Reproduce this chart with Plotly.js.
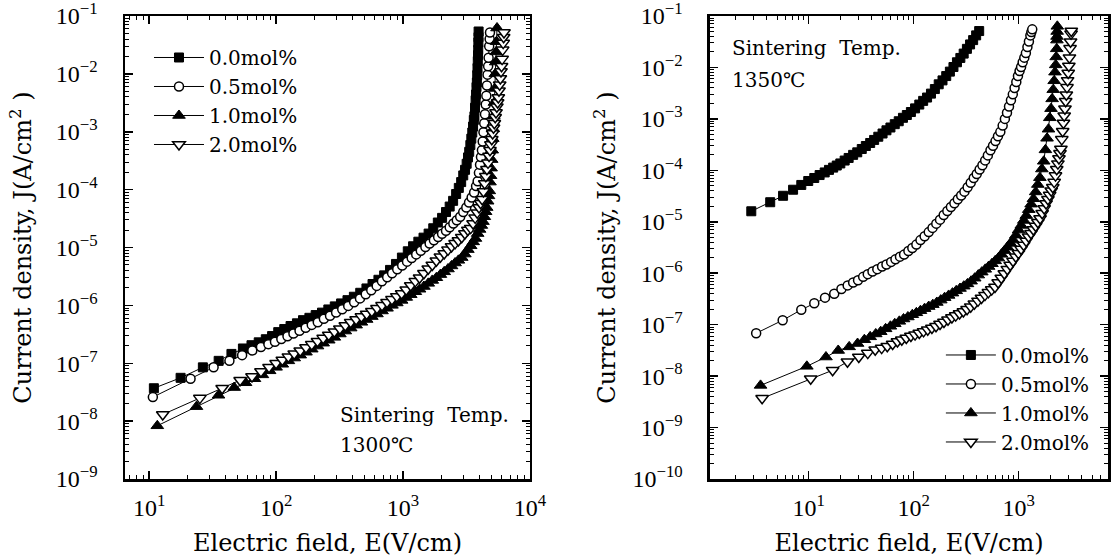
<!DOCTYPE html>
<html><head><meta charset="utf-8">
<script src="https://cdn.plot.ly/plotly-3.0.1.min.js"></script>
<style>html,body{margin:0;padding:0;background:#fff}#chart{width:1111px;height:560px}</style>
</head><body><div id="chart"></div>
<script>
const seriesNames = ['0.0mol%', '0.5mol%', '1.0mol%', '2.0mol%'];
const panelNotes = ['Sintering\u00a0 Temp.', '1300℃', 'Sintering\u00a0 Temp.', '1350℃'];

// ---- Sintering 1300 C : E (V/cm), J (A/cm2)
const e1300_00 = [10.9,17.7,26.5,35.3,44.5, 54.8,64,73,83,93, 104,116,130,146,163, 183,205,230,258,290, 325,365,410,460,515, 575,640,710,790,880, 980,1090,1200,1320,1450, 1590,1730,1880,2030,2180, 2330,2480,2620,2750,2870, 2980,3080,3170,3250,3320, 3390,3450,3510,3560,3610, 3650,3690,3730,3760,3790, 3815,3840,3860,3880,3895, 3910,3920,3930,3937];
const j1300_00 = [3.7e-8,5.6e-8,8.5e-8,1.1e-7,1.45e-7, 1.8e-7,2.05e-7,2.3e-7,2.6e-7,2.95e-7, 3.45e-7,3.9e-7,4.4e-7,4.9e-7,5.55e-7, 6.1e-7,6.8e-7,7.5e-7,8.5e-7,9.6e-7, 1.08e-6,1.23e-6,1.41e-6,1.65e-6,1.96e-6, 2.34e-6,2.77e-6,3.3e-6,4.1e-6,5.2e-6, 6.7e-6,8.6e-6,1.05e-5,1.26e-5,1.48e-5, 1.74e-5,2.15e-5,2.7e-5,3.25e-5,4.1e-5, 5.1e-5,6.4e-5,8.4e-5,1.07e-4,1.35e-4, 1.76e-4,2.2e-4,2.8e-4,3.6e-4,4.5e-4, 5.9e-4,7.6e-4,9.7e-4,1.23e-3,1.6e-3, 1.85e-3,2.6e-3,3.5e-3,4.4e-3,5.9e-3, 7.1e-3,9.5e-3,1.26e-2,1.66e-2,2.1e-2, 2.6e-2,3.5e-2,4.3e-2,5.4e-2];
const e1300_05 = [10.7,21.2,32.2,42.9,54, 65,76,87,98,110, 123,137,153,171,191, 213,238,266,297,332, 370,412,458,508,562, 620,682,750,820,900, 985,1075,1170,1270,1380, 1500,1620,1750,1890,2030, 2180,2330,2490,2650,2820, 2980,3150,3310,3470,3630, 3760,3870,3960,4040,4110, 4180,4240,4300,4360,4420, 4480,4530,4580,4630,4680, 4720,4770,4810,4840];
const j1300_05 = [2.6e-8,5.4e-8,8.5e-8,1.1e-7,1.38e-7, 1.66e-7,1.9e-7,2.14e-7,2.35e-7,2.63e-7, 2.93e-7,3.25e-7,3.65e-7,4.1e-7,4.6e-7, 5.1e-7,5.85e-7,6.6e-7,7.55e-7,8.6e-7, 9.8e-7,1.13e-6,1.32e-6,1.56e-6,1.82e-6, 2.17e-6,2.6e-6,3.05e-6,3.6e-6,4.2e-6, 4.9e-6,5.7e-6,6.6e-6,7.6e-6,8.8e-6, 1.02e-5,1.17e-5,1.33e-5,1.52e-5,1.73e-5, 1.95e-5,2.24e-5,2.6e-5,2.95e-5,3.4e-5, 4.1e-5,4.9e-5,6e-5,7.3e-5,8.9e-5, 1.15e-4,1.4e-4,1.95e-4,2.7e-4,3.65e-4, 4.8e-4,6.8e-4,9.8e-4,1.4e-3,2.0e-3, 2.95e-3,4.2e-3,6.3e-3,9.7e-3,1.35e-2, 1.9e-2,3e-2,4e-2,5.2e-2];
const e1300_10 = [11.6,23.6,35.2,46.8,57.5, 67.6,78,89,100,112, 125,139,155,172,191, 212,235,260,288,318, 351,387,427,470,517, 568,623,683,748,818, 893,975,1060,1150,1250, 1350,1460,1580,1700,1830, 1970,2110,2260,2410,2570, 2730,2900,3070,3240,3410, 3570,3720,3870,4010,4140, 4260,4370,4470,4560,4640, 4710,4780,4840,4890,4940, 4990,5040,5090,5140,5190, 5240,5290,5330,5370,5410, 5450,5500];
const j1300_10 = [8.3e-9,1.78e-8,2.8e-8,3.8e-8,4.6e-8, 5.4e-8,6.3e-8,7.4e-8,8.5e-8,9.6e-8, 1.1e-7,1.23e-7,1.38e-7,1.55e-7,1.75e-7, 1.98e-7,2.22e-7,2.5e-7,2.8e-7,3.2e-7, 3.6e-7,4.05e-7,4.55e-7,5.1e-7,5.7e-7, 6.4e-7,7.1e-7,8e-7,8.9e-7,1.0e-6, 1.1e-6,1.22e-6,1.37e-6,1.53e-6,1.72e-6, 1.9e-6,2.12e-6,2.4e-6,2.7e-6,3.0e-6, 3.4e-6,3.8e-6,4.25e-6,4.8e-6,5.4e-6, 6e-6,6.7e-6,7.7e-6,9.2e-6,1.07e-5, 1.25e-5,1.43e-5,1.74e-5,2.05e-5,2.4e-5, 2.8e-5,3.4e-5,4.15e-5,4.9e-5,6.3e-5, 7.8e-5,9.5e-5,1.35e-4,1.74e-4,2.35e-4, 3.3e-4,4.8e-4,7.6e-4,1.12e-3,1.86e-3, 3.2e-3,5.6e-3,1.0e-2,1.6e-2,2.4e-2, 3.6e-2,6.2e-2];
const e1300_20 = [12.8,25.1,37.6,52.1,64.6, 76,88,100,112,125, 139,155,172,191,212, 235,260,288,318,351, 387,427,470,517,568, 623,683,748,818,893, 975,1060,1150,1250,1350, 1460,1580,1700,1830,1970, 2110,2260,2410,2570,2730, 2900,3070,3240,3410,3560, 3700,3840,3970,4090,4200, 4300,4400,4490,4580,4670, 4760,4840,4920,5000,5080, 5160,5240,5320,5400,5480, 5560,5630,5700,5770,5840, 5910,5970,6030,6090,6150, 6200,6240];
const j1300_20 = [1.3e-8,2.5e-8,3.7e-8,5.1e-8,5.9e-8, 7.2e-8,8.5e-8,1.0e-7,1.14e-7,1.3e-7, 1.46e-7,1.64e-7,1.87e-7,2.12e-7,2.4e-7, 2.72e-7,3.08e-7,3.5e-7,3.95e-7,4.5e-7, 5.1e-7,5.7e-7,6.4e-7,7.1e-7,7.9e-7, 8.9e-7,1.0e-6,1.13e-6,1.27e-6,1.43e-6, 1.6e-6,1.86e-6,2.2e-6,2.6e-6,3.0e-6, 3.6e-6,4.3e-6,5.0e-6,5.9e-6,6.9e-6, 7.9e-6,9.1e-6,1.04e-5,1.18e-5,1.32e-5, 1.5e-5,1.74e-5,2.0e-5,2.16e-5,2.6e-5, 3.25e-5,4.0e-5,4.9e-5,5.8e-5,6.8e-5, 9.3e-5,1.28e-4,1.7e-4,2.25e-4,2.9e-4, 3.8e-4,4.8e-4,6e-4,7.4e-4,9.3e-4, 1.17e-3,1.4e-3,1.78e-3,2.15e-3,2.7e-3, 3.2e-3,3.9e-3,5.1e-3,6.5e-3,8.3e-3, 1.1e-2,1.35e-2,1.8e-2,2.6e-2,3.4e-2, 4.3e-2,5.2e-2];

// ---- Sintering 1350 C
const e1350_00 = [2.84,4.3,5.7,7.1,8.5, 9.9,11.3,12.7,14.2,15.6, 17.1,18.5,20,22,24, 26.5,29,32,35,38.5, 42,46,50.5,55,60, 66,72,79,86,94, 103,113,123,134,146, 159,173,188,204,221, 239,258,278,299,321, 344,368,393,420];
const j1350_00 = [1.6e-5,2.4e-5,3.2e-5,4.2e-5,5.2e-5, 6.2e-5,7.1e-5,8.1e-5,9.1e-5,1.02e-4, 1.13e-4,1.24e-4,1.36e-4,1.55e-4,1.74e-4, 2.0e-4,2.24e-4,2.6e-4,2.97e-4,3.4e-4, 3.9e-4,4.5e-4,5.2e-4,6.0e-4,6.8e-4, 7.9e-4,9.0e-4,1.05e-3,1.19e-3,1.36e-3, 1.6e-3,1.9e-3,2.24e-3,2.6e-3,3.1e-3, 3.8e-3,4.7e-3,5.6e-3,6.8e-3,8.3e-3, 1.02e-2,1.26e-2,1.53e-2,1.86e-2,2.3e-2, 2.8e-2,3.4e-2,4.2e-2,5.1e-2];
const e1350_05 = [3.16,5.65,8.5,11.3,14.3, 17.5,20.5,23.5,26.5,29.5, 33,36.5,40.5,45,50, 55,61,67,74,81, 89,97,106,116,127, 139,151,164,178,193, 209,226,244,263,283, 304,326,349,373,398, 424,451,479,508,538, 569,601,634,668,703, 738,773,808,843,878, 913,948,983,1018,1053, 1090,1130,1170,1210,1250, 1290,1320,1345];
const j1350_05 = [6.8e-8,1.22e-7,1.95e-7,2.6e-7,3.35e-7, 4.0e-7,4.95e-7,5.8e-7,6.6e-7,7.3e-7, 8.5e-7,9.6e-7,1.08e-6,1.2e-6,1.35e-6, 1.48e-6,1.66e-6,1.86e-6,2.1e-6,2.3e-6, 2.7e-6,3.1e-6,3.6e-6,4.4e-6,5.25e-6, 6.3e-6,7.6e-6,9.2e-6,1.1e-5,1.35e-5, 1.62e-5,1.94e-5,2.3e-5,2.75e-5,3.25e-5, 3.85e-5,4.7e-5,5.75e-5,7.1e-5,8.5e-5, 1.04e-4,1.26e-4,1.56e-4,1.95e-4,2.45e-4, 3.0e-4,3.7e-4,4.6e-4,5.6e-4,7.4e-4, 1.0e-3,1.32e-3,1.74e-3,2.3e-3,3.0e-3, 4.0e-3,5.2e-3,6.8e-3,8.5e-3,1.02e-2, 1.26e-2,1.55e-2,1.9e-2,2.5e-2,3.2e-2, 4.2e-2,4.9e-2,5.5e-2];
const e1350_10 = [3.48,9.6,14.6,19.1,24.3, 29.2,33.9,38.5,43.5,48.5, 54,60,66,73,80, 88,97,106,116,127, 139,152,166,181,197, 215,234,254,276,300, 325,352,381,412,445, 480,517,556,597,640, 685,732,781,832,885, 940,997,1056,1117,1180, 1245,1312,1380,1450,1520, 1590,1660,1730,1795,1860, 1920,1975,2030,2080,2130, 2175,2215,2250,2275,2300, 2310,2315,2322,2330];
const j1350_10 = [6.6e-9,1.55e-8,2.35e-8,3.15e-8,3.7e-8, 4.3e-8,5.1e-8,5.8e-8,6.6e-8,7.3e-8, 8.3e-8,9.3e-8,1.04e-7,1.16e-7,1.29e-7, 1.41e-7,1.56e-7,1.7e-7,1.87e-7,2.05e-7, 2.25e-7,2.45e-7,2.7e-7,3.0e-7,3.35e-7, 3.7e-7,4.1e-7,4.55e-7,5.05e-7,5.6e-7, 6.2e-7,7.0e-7,8.0e-7,9.2e-7,1.05e-6, 1.19e-6,1.35e-6,1.53e-6,1.74e-6,1.97e-6, 2.33e-6,2.75e-6,3.2e-6,3.8e-6,4.4e-6, 5.5e-6,6.9e-6,8.5e-6,1.06e-5,1.32e-5, 1.72e-5,2.2e-5,2.8e-5,3.8e-5,5.3e-5, 7.2e-5,1.06e-4,1.5e-4,2.5e-4,4.2e-4, 6.3e-4,1.05e-3,1.58e-3,2.45e-3,3.7e-3, 5.5e-3,8.1e-3,1.12e-2,1.6e-2,2.3e-2, 3.4e-2,4.0e-2,5.0e-2,6.3e-2];
const e1350_20 = [3.6,10.45,16.9,23.4,30, 36.5,43,49.5,56,63, 70,77,85,94,103, 113,124,136,149,163, 178,194,212,231,251, 273,297,322,349,378, 409,442,477,514,553, 594,637,682,729,778, 829,882,937,994,1053, 1114,1177,1242,1309,1378, 1449,1522,1597,1672,1747, 1822,1897,1970,2040,2110, 2175,2240,2300,2360,2415, 2470,2520,2570,2620,2665, 2710,2755,2800,2840,2880, 2920,2960,3000,3040,3080, 3115,3150,3165];
const j1350_20 = [3.7e-9,8.9e-9,1.3e-8,1.9e-8,2.35e-8, 2.8e-8,3.25e-8,3.5e-8,3.8e-8,4.2e-8, 4.7e-8,5.1e-8,5.5e-8,6.0e-8,6.4e-8, 6.9e-8,7.4e-8,8.0e-8,8.6e-8,9.3e-8, 1.03e-7,1.13e-7,1.25e-7,1.38e-7,1.5e-7, 1.65e-7,1.8e-7,2.0e-7,2.24e-7,2.55e-7, 2.9e-7,3.3e-7,3.75e-7,4.25e-7,4.8e-7, 5.4e-7,6.6e-7,8.1e-7,9.9e-7,1.2e-6, 1.45e-6,1.73e-6,2.1e-6,2.45e-6,2.95e-6, 3.55e-6,4.25e-6,5.1e-6,6.0e-6,7.1e-6, 8.3e-6,9.8e-6,1.16e-5,1.46e-5,1.82e-5, 2.27e-5,2.75e-5,3.3e-5,4.0e-5,4.7e-5, 5.9e-5,7.9e-5,1.05e-4,1.35e-4,1.7e-4, 2.15e-4,2.6e-4,4.0e-4,5.75e-4,8.3e-4, 1.15e-3,1.58e-3,2.2e-3,2.95e-3,4.1e-3, 5.6e-3,7.8e-3,1.07e-2,1.55e-2,2.35e-2, 3.15e-2,4.5e-2,5.1e-2];

// ---- tick labels
const xTickValsL = [10, 100, 1000, 10000];
const xTickTextL = ['10<sup>1</sup>', '10<sup>2</sup>', '10<sup>3</sup>', '10<sup>4</sup>'];
const yTickValsL = [1e-9, 1e-8, 1e-7, 1e-6, 1e-5, 1e-4, 1e-3, 1e-2, 1e-1];
const yTickTextL = ['10<sup>−9</sup>', '10<sup>−8</sup>', '10<sup>−7</sup>', '10<sup>−6</sup>', '10<sup>−5</sup>', '10<sup>−4</sup>', '10<sup>−3</sup>', '10<sup>−2</sup>', '10<sup>−1</sup>'];
const xTickValsR = [10, 100, 1000];
const xTickTextR = ['10<sup>1</sup>', '10<sup>2</sup>', '10<sup>3</sup>'];
const yTickValsR = [1e-10, 1e-9, 1e-8, 1e-7, 1e-6, 1e-5, 1e-4, 1e-3, 1e-2, 1e-1];
const yTickTextR = ['10<sup>−10</sup>', '10<sup>−9</sup>', '10<sup>−8</sup>', '10<sup>−7</sup>', '10<sup>−6</sup>', '10<sup>−5</sup>', '10<sup>−4</sup>', '10<sup>−3</sup>', '10<sup>−2</sup>', '10<sup>−1</sup>'];
const xTitle = 'Electric field, E(V/cm)';
const yTitle = 'Current density, J(A/cm<sup>2</sup> )';

const markerStyles = [
  {symbol: 'square', size: 9, color: '#000', line: {color: '#000', width: 1}},
  {symbol: 'circle', size: 9, color: '#fff', line: {color: '#000', width: 1.5}},
  {symbol: 'triangle-up', size: 11, color: '#000', line: {color: '#000', width: 1}},
  {symbol: 'triangle-down', size: 11, color: '#fff', line: {color: '#000', width: 1.5}}
];

const leftSets = [[e1300_00, j1300_00], [e1300_05, j1300_05], [e1300_10, j1300_10], [e1300_20, j1300_20]];
const rightSets = [[e1350_00, j1350_00], [e1350_05, j1350_05], [e1350_10, j1350_10], [e1350_20, j1350_20]];

const traces = [];
leftSets.forEach((s, i) => traces.push({
  x: s[0], y: s[1], type: 'scatter', mode: 'lines+markers', name: seriesNames[i],
  xaxis: 'x', yaxis: 'y', legend: 'legend', cliponaxis: true,
  line: {color: '#000', width: 1}, marker: markerStyles[i]
}));
rightSets.forEach((s, i) => traces.push({
  x: s[0], y: s[1], type: 'scatter', mode: 'lines+markers', name: seriesNames[i],
  xaxis: 'x2', yaxis: 'y2', legend: 'legend2', cliponaxis: true,
  line: {color: '#000', width: 1}, marker: markerStyles[i]
}));

const tickFont = {family: 'Liberation Serif, serif', size: 24, color: '#000'};
const titleFont = {family: 'DejaVu Serif, serif', size: 24, color: '#000'};
function axis(extra) {
  return Object.assign({
    type: 'log', showline: true, linewidth: 2.5, linecolor: '#000', mirror: 'ticks',
    ticks: 'inside', ticklen: 8, tickwidth: 1.5, tickcolor: '#000',
    showgrid: false, zeroline: false, tickmode: 'array', tickfont: tickFont,
    ticklabeloverflow: 'allow',
    minor: {ticks: 'inside', ticklen: 4, tickwidth: 1, tickcolor: '#000', dtick: 'D1', showgrid: false}
  }, extra);
}

const layout = {
  width: 1111, height: 560,
  margin: {l: 125, r: 3, t: 16, b: 81, pad: 0},
  paper_bgcolor: '#fff', plot_bgcolor: '#fff',
  showlegend: true,
  xaxis: axis({domain: [0, 0.412], range: [0.81, 4.0], tickvals: xTickValsL, ticktext: xTickTextL,
    ticklabelstandoff: 6, anchor: 'y', title: {text: xTitle, font: titleFont, standoff: 14}}),
  yaxis: axis({domain: [0, 1], range: [-9, -1], tickvals: yTickValsL, ticktext: yTickTextL,
    ticklabelstandoff: 20, anchor: 'x', title: {text: yTitle, font: titleFont, standoff: 18}}),
  xaxis2: axis({domain: [0.5951, 1], range: [0.06, 3.85], tickvals: xTickValsR, ticktext: xTickTextR,
    ticklabelstandoff: 6, anchor: 'y2', title: {text: xTitle, font: titleFont, standoff: 14}}),
  yaxis2: axis({domain: [0, 1], range: [-10, -1], tickvals: yTickValsR, ticktext: yTickTextR,
    ticklabelstandoff: 20, anchor: 'x2', title: {text: yTitle, font: titleFont, standoff: 10}}),
  legend: {x: 0.0244, y: 0.9525, xanchor: 'left', yanchor: 'top', bgcolor: 'rgba(0,0,0,0)',
    borderwidth: 0, itemwidth: 50, font: {family: 'DejaVu Serif, serif', size: 20, color: '#000'}},
  legend2: {x: 0.830, y: 0.310, xanchor: 'left', yanchor: 'top', bgcolor: 'rgba(0,0,0,0)',
    borderwidth: 0, itemwidth: 50, font: {family: 'DejaVu Serif, serif', size: 20, color: '#000'}},
  annotations: [
    {xref: 'paper', yref: 'paper', x: 0.2167, y: 0.1382, xanchor: 'left', yanchor: 'middle', showarrow: false,
      text: panelNotes[0], font: {family: 'DejaVu Serif, serif', size: 20, color: '#000'}},
    {xref: 'paper', yref: 'paper', x: 0.2167, y: 0.0734, xanchor: 'left', yanchor: 'middle', showarrow: false,
      text: panelNotes[1], font: {family: 'DejaVu Serif, serif', size: 20, color: '#000'}},
    {xref: 'paper', yref: 'paper', x: 0.6155, y: 0.9309, xanchor: 'left', yanchor: 'middle', showarrow: false,
      text: panelNotes[2], font: {family: 'DejaVu Serif, serif', size: 20, color: '#000'}},
    {xref: 'paper', yref: 'paper', x: 0.6155, y: 0.8618, xanchor: 'left', yanchor: 'middle', showarrow: false,
      text: panelNotes[3], font: {family: 'DejaVu Serif, serif', size: 20, color: '#000'}}
  ]
};

Plotly.newPlot('chart', traces, layout, {staticPlot: true, displayModeBar: false});
</script>
</body></html>
